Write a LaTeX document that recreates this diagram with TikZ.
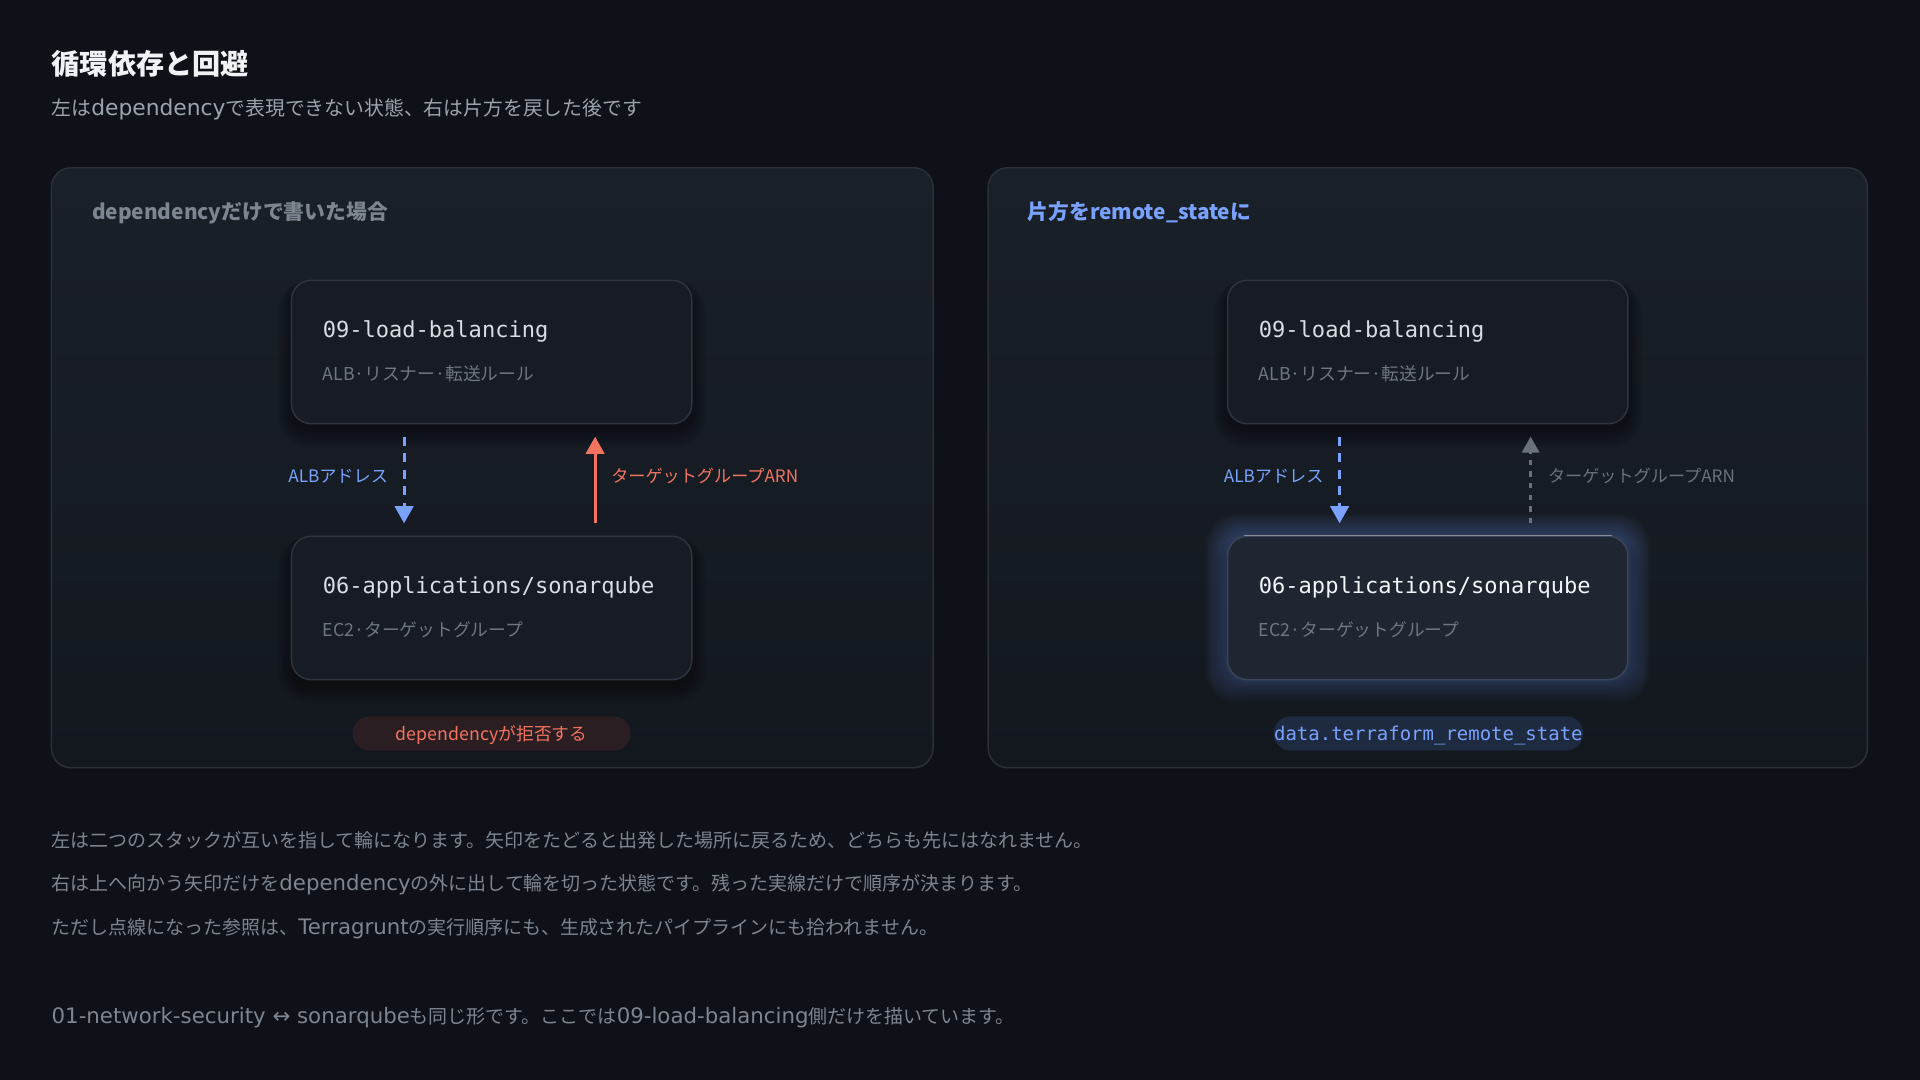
\documentclass[tikz,border=0pt]{standalone}
\usepackage{fontspec}
\setmainfont{Noto Sans CJK JP}
\newfontfamily\mono{DejaVu Sans Mono}
\newfontfamily\dvs{DejaVu Sans}
\newcommand\latB[1]{{\dvs\fontsize{17.4}{19}\selectfont #1}}
\newcommand\latS[1]{{\dvs\fontsize{17.8}{20}\selectfont #1}}
\usetikzlibrary{arrows.meta,calc}
\definecolor{bg}{HTML}{0E1117}
\definecolor{panelT}{HTML}{1A2028}
\definecolor{panelB}{HTML}{13181F}
\definecolor{panelLine}{HTML}{2A3039}
\definecolor{nodeFill}{HTML}{171C24}
\definecolor{nodeLine}{HTML}{2E343D}
\definecolor{hiFill}{HTML}{1F2631}
\definecolor{hiLine}{HTML}{3A4457}
\definecolor{titleC}{HTML}{F0F3F6}
\definecolor{subC}{HTML}{9BA3AD}
\definecolor{bodyC}{HTML}{7D8590}
\definecolor{dimC}{HTML}{6E7681}
\definecolor{monoC}{HTML}{D9DEE4}
\definecolor{hiMono}{HTML}{F4F7FA}
\definecolor{blueC}{HTML}{79A2FF}
\definecolor{redC}{HTML}{F2735F}
\definecolor{grayA}{HTML}{6A717B}
\definecolor{pillRed}{HTML}{2A1E22}
\definecolor{pillBlue}{HTML}{1E2A40}
\tikzset{
  panel/.style={draw=panelLine, line width=1.2pt, rounded corners=16pt, top color=panelT, bottom color=panelB},
  stackbox/.style={draw=nodeLine, line width=1.2pt, rounded corners=16pt, fill=nodeFill, minimum width=327pt, minimum height=117pt, inner sep=0pt},
  hibox/.style={stackbox, fill=hiFill, draw=hiLine},
  monotxt/.style={font=\mono\fontsize{18}{20}\selectfont, text=monoC, anchor=base west, inner sep=0pt},
  subtxt/.style={font=\fontsize{14.5}{17}\selectfont, text=dimC, anchor=base west, inner sep=0pt},
  lbl/.style={font=\fontsize{14}{16}\selectfont, inner sep=0pt},
  body/.style={font=\fontsize{15.5}{19}\selectfont, text=bodyC, anchor=base west, inner sep=0pt},
  bluearrow/.style={draw=blueC, line width=2.4pt, dash pattern=on 7.5pt off 6pt, -{Triangle[width=15pt,length=14pt]}},
  redarrow/.style={draw=redC, line width=2.4pt, -{Triangle[width=15pt,length=14pt]}},
  grayarrow/.style={draw=grayA, line width=2.2pt, dash pattern=on 4.5pt off 5pt, -{Triangle[width=14pt,length=13pt]}},
  pill/.style={rounded corners=14pt, minimum height=28pt, inner sep=0pt, text height=13pt, text depth=2pt}
}
\begin{document}
\begin{tikzpicture}[x=1pt,y=-1pt]
\useasboundingbox (0,0) rectangle (1568,882);
\fill[bg] (0,0) rectangle (1568,882);

% titles
\node[font=\bfseries\fontsize{23}{26}\selectfont, text=titleC, anchor=base west, inner sep=0pt] (title) at (42,61) {循環依存と回避};
\node[font=\fontsize{16.2}{19}\selectfont, text=subC, anchor=base west, inner sep=0pt] (subtitle) at (42,94) {左は\latS{dependency}で表現できない状態、右は片方を戻した後です};

% panels
\path[panel] (42,137) rectangle (762,627);
\path[panel] (807,137) rectangle (1525,627);
\node[font=\bfseries\fontsize{17}{20}\selectfont, text=bodyC, anchor=base west, inner sep=0pt] (ltitle) at (75,179) {dependencyだけで書いた場合};
\node[font=\bfseries\fontsize{17}{20}\selectfont, text=blueC, anchor=base west, inner sep=0pt] (rtitle) at (839,179) {片方をremote\_stateに};

% shadows
\foreach \cx in {401.5,1166}{
  \foreach \cy in {287.5,496.5}{
    \foreach \i in {1,...,7}{
      \fill[black, opacity=0.055, rounded corners=16pt+\i pt]
        (\cx-163.5-\i*1.6, \cy-58.5-\i*0.6+5) rectangle (\cx+163.5+\i*1.6, \cy+58.5+\i*1.9+5);
    }
  }
}
% glow for highlighted box
\foreach \i in {1,...,10}{
  \fill[blueC, opacity=0.032, rounded corners=16pt+\i pt]
    (1166-163.5-\i*1.8, 496.5-58.5-\i*1.8) rectangle (1166+163.5+\i*1.8, 496.5+58.5+\i*1.8);
}

% left boxes
\node[stackbox] (lt) at (401.5,287.5) {};
\node[stackbox] (lb) at (401.5,496.5) {};
\node[monotxt] (ltname) at ([xshift=26pt,yshift=-47pt]lt.north west) {09-load-balancing};
\node[subtxt] (ltsub) at ([xshift=26pt,yshift=-82pt]lt.north west) {ALB·リスナー·転送ルール};
\node[monotxt] (lbname) at ([xshift=26pt,yshift=-47pt]lb.north west) {06-applications/sonarqube};
\node[subtxt] (lbsub) at ([xshift=26pt,yshift=-82pt]lb.north west) {EC2·ターゲットグループ};

% right boxes
\node[stackbox] (rt) at (1166,287.5) {};
\node[hibox] (rb) at (1166,496.5) {};
\draw[line width=1.4pt, draw=grayA!80] ([xshift=14pt]rb.north west) -- ([xshift=-14pt]rb.north east);
\node[monotxt] (rtname) at ([xshift=26pt,yshift=-47pt]rt.north west) {09-load-balancing};
\node[subtxt] (rtsub) at ([xshift=26pt,yshift=-82pt]rt.north west) {ALB·リスナー·転送ルール};
\node[monotxt, text=hiMono] (rbname) at ([xshift=26pt,yshift=-47pt]rb.north west) {06-applications/sonarqube};
\node[subtxt] (rbsub) at ([xshift=26pt,yshift=-82pt]rb.north west) {EC2·ターゲットグループ};

% left connectors
\draw[bluearrow] ([xshift=-71.5pt,yshift=-10pt]lt.south) -- ([xshift=-71.5pt,yshift=10pt]lb.north);
\draw[redarrow] ([xshift=84.5pt,yshift=10pt]lb.north) -- ([xshift=84.5pt,yshift=-10pt]lt.south);
\node[lbl, text=blueC, anchor=east] (lalb) at (317,389) {ALBアドレス};
\node[lbl, text=redC, anchor=west] (larn) at (499,389) {ターゲットグループARN};

% right connectors
\draw[bluearrow] ([xshift=-72pt,yshift=-10pt]rt.south) -- ([xshift=-72pt,yshift=10pt]rb.north);
\draw[grayarrow] ([xshift=84pt,yshift=10pt]rb.north) -- ([xshift=84pt,yshift=-10pt]rt.south);
\node[lbl, text=blueC, anchor=east] (ralb) at (1081,389) {ALBアドレス};
\node[lbl, text=grayA, anchor=west] (rarn) at (1264,389) {ターゲットグループARN};

% pills
\node[pill, fill=pillRed, minimum width=227pt, font=\fontsize{14.5}{17}\selectfont, text=redC] (lpill) at (401.5,599) {dependencyが拒否する};
\node[pill, fill=pillBlue, minimum width=253pt, font=\mono\fontsize{15.5}{17}\selectfont, text=blueC] (rpill) at (1166.5,599) {data.terraform\_remote\_state};

% body text
\node[body] (b1) at (42,692) {左は二つのスタックが互いを指して輪になります。矢印をたどると出発した場所に戻るため、どちらも先にはなれません。};
\node[body] (b2) at (42,727) {右は上へ向かう矢印だけを\latB{dependency}の外に出して輪を切った状態です。残った実線だけで順序が決まります。};
\node[body] (b3) at (42,763) {ただし点線になった参照は、\latB{Terragrunt}の実行順序にも、生成されたパイプラインにも拾われません。};
\node[body] (b4) at (42,836) {\latB{01-network-security ↔ sonarqube}も同じ形です。ここでは\latB{09-load-balancing}側だけを描いています。};
\end{tikzpicture}
\end{document}
